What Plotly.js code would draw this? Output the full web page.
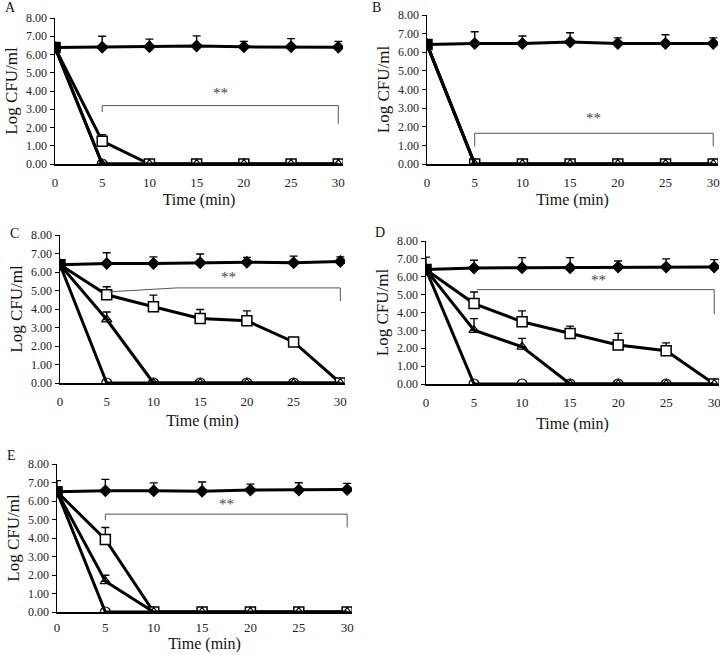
<!DOCTYPE html>
<html>
<head>
<meta charset="utf-8">
<script src="https://cdn.plot.ly/plotly-3.0.1.min.js"></script>
<style>html,body{margin:0;padding:0;background:#fff;}#chart{width:720px;height:655px;}</style>
</head>
<body>
<div id="chart"></div>
<script>
// ---- data ----
const times = [0, 5, 10, 15, 20, 25, 30];
const yTickVals = [0, 1, 2, 3, 4, 5, 6, 7, 8];
const panelLetters = ["A", "B", "C", "D", "E"];

// Panel A
const ctrlA = [6.38, 6.40, 6.42, 6.47, 6.42, 6.43, 6.40];
const ctrlErrA = [0, 0.60, 0.42, 0.55, 0.30, 0.44, 0.32];
const sqA = [6.38, 1.25, 0, 0, 0, 0, 0];
const sqErrA = [0, 0.35, 0, 0, 0, 0, 0];
const triA = [6.38, 0, 0, 0, 0, 0, 0];
const triErrA = [0, 0, 0, 0, 0, 0, 0];
const circA = [6.38, 0, 0, 0, 0, 0, 0];

// Panel B
const ctrlB = [6.42, 6.47, 6.47, 6.55, 6.47, 6.47, 6.47];
const ctrlErrB = [0, 0.63, 0.40, 0.50, 0.30, 0.47, 0.30];
const sqB = [6.42, 0, 0, 0, 0, 0, 0];
const sqErrB = [0, 0, 0, 0, 0, 0, 0];
const triB = [6.42, 0, 0, 0, 0, 0, 0];
const triErrB = [0, 0, 0, 0, 0, 0, 0];
const circB = [6.42, 0, 0, 0, 0, 0, 0];

// Panel C
const ctrlC = [6.39, 6.46, 6.46, 6.50, 6.53, 6.50, 6.57];
const ctrlErrC = [0, 0.58, 0.36, 0.47, 0.26, 0.36, 0.25];
const sqC = [6.39, 4.77, 4.12, 3.49, 3.36, 2.22, 0];
const sqErrC = [0, 0.43, 0.63, 0.48, 0.54, 0.18, 0];
const triC = [6.39, 3.43, 0, 0, 0, 0, 0];
const triErrC = [0, 0.41, 0, 0, 0, 0, 0];
const circC = [6.39, 0, 0, 0, 0, 0, 0];

// Panel D
const ctrlD = [6.40, 6.49, 6.51, 6.51, 6.55, 6.55, 6.55];
const ctrlErrD = [0.70, 0.43, 0.56, 0.56, 0.33, 0.45, 0.41];
const sqD = [6.40, 4.50, 3.48, 2.83, 2.18, 1.86, 0];
const sqErrD = [0, 0.65, 0.61, 0.41, 0.65, 0.44, 0];
const triD = [6.40, 3.01, 2.08, 0, 0, 0, 0];
const triErrD = [0, 0.65, 0.47, 0, 0, 0, 0];
const circD = [6.40, 0, 0, 0, 0, 0, 0];

// Panel E
const ctrlE = [6.50, 6.55, 6.55, 6.53, 6.59, 6.59, 6.62];
const ctrlErrE = [0.60, 0.62, 0.43, 0.50, 0.32, 0.40, 0.33];
const sqE = [6.50, 3.92, 0, 0, 0, 0, 0];
const sqErrE = [0, 0.65, 0, 0, 0, 0, 0];
const triE = [6.50, 1.66, 0, 0, 0, 0, 0];
const triErrE = [0, 0.33, 0, 0, 0, 0, 0];
const circE = [6.50, 0, 0, 0, 0, 0, 0];

// significance brackets: polyline x / y, star label position
const bracketX = [
  [5, 5, 30, 30],
  [5, 5, 30, 30],
  [5.3, 12.5, 30, 30],
  [5.3, 30, 30],
  [5, 5, 30, 30]
];
const bracketY = [
  [2.85, 3.2, 3.2, 2.2],
  [0.95, 1.65, 1.65, 0.95],
  [4.93, 5.14, 5.14, 4.42],
  [5.28, 5.28, 3.9],
  [4.96, 5.29, 5.29, 4.57]
];
const starX = [17.5, 17.5, 18, 18, 17.5];
const starY = [3.9, 2.45, 5.75, 5.8, 5.83];

// ---- layout geometry (pixels) ----
const W = 720, H = 655;
const panels = [
  {ctrl: ctrlA, ce: ctrlErrA, sq: sqA, se: sqErrA, tri: triA, te: triErrA, circ: circA, box: [55, 343, 18, 164]},
  {ctrl: ctrlB, ce: ctrlErrB, sq: sqB, se: sqErrB, tri: triB, te: triErrB, circ: circB, box: [427, 718, 15, 164]},
  {ctrl: ctrlC, ce: ctrlErrC, sq: sqC, se: sqErrC, tri: triC, te: triErrC, circ: circC, box: [60, 345, 235, 383]},
  {ctrl: ctrlD, ce: ctrlErrD, sq: sqD, se: sqErrD, tri: triD, te: triErrD, circ: circD, box: [426, 719, 241, 384]},
  {ctrl: ctrlE, ce: ctrlErrE, sq: sqE, se: sqErrE, tri: triE, te: triErrE, circ: circE, box: [57, 352, 464, 612]}
];
const letterPos = [[3, 8], [370, 7], [8, 233], [373, 232], [5, 455]];
const xTitleStandoff = [4, 4, 6, 8, 0];
const xLabelStandoff = [6, 6, 6, 6, 3];

const FONT = "'Liberation Serif', 'Times New Roman', Times, serif";
const traces = [];
const layout = {
  width: W, height: H,
  margin: {l: 0, r: 0, t: 0, b: 0},
  paper_bgcolor: "#fff", plot_bgcolor: "#fff",
  showlegend: false,
  font: {family: FONT, size: 13, color: "#222"},
  shapes: [], annotations: []
};

function errBar(arr) {
  return {type: "data", symmetric: false, array: arr, arrayminus: arr.map(() => 0),
          color: "#000", thickness: 1.4, width: 4, visible: true};
}

panels.forEach((p, i) => {
  const n = i === 0 ? "" : String(i + 1);
  const xa = "x" + n, ya = "y" + n;
  const line = {color: "#000", width: 3};
  traces.push({x: times, y: p.ctrl, xaxis: xa, yaxis: ya, mode: "lines+markers", line: line,
    marker: {symbol: "diamond", size: 10, color: "#000"}, error_y: errBar(p.ce)});
  traces.push({x: times, y: p.circ, xaxis: xa, yaxis: ya, mode: "lines+markers", line: line,
    marker: {symbol: "circle-open", size: 10, color: "#000", line: {width: 1.2}}});
  traces.push({x: times, y: p.sq, xaxis: xa, yaxis: ya, mode: "lines+markers", line: line,
    marker: {symbol: "square", size: 10, color: times.map((t, k) => k === 0 ? "#000" : "#fff"),
             line: {color: "#000", width: 1.5}}, error_y: errBar(p.se)});
  traces.push({x: times, y: p.tri, xaxis: xa, yaxis: ya, mode: "lines+markers", line: line,
    marker: {symbol: "triangle-up-open", size: 9, color: "#000", line: {width: 1.2}}, error_y: errBar(p.te)});

  const b = p.box;
  const xKey = "xaxis" + n, yKey = "yaxis" + n;
  layout[xKey] = {
    domain: [b[0] / W, b[1] / W], anchor: ya, range: [0, 30.5],
    tickvals: times, ticktext: times.map(String),
    showgrid: false, zeroline: false, showline: true, linecolor: "#000", linewidth: 1.5,
    ticks: "", ticklabelstandoff: xLabelStandoff[i], ticklabeloverflow: "allow",
    tickfont: {family: FONT, size: 13, color: "#222"},
    title: {text: "Time (min)", font: {family: FONT, size: 16, color: "#111"}, standoff: xTitleStandoff[i]}
  };
  layout[yKey] = {
    domain: [1 - b[3] / H, 1 - b[2] / H], anchor: xa, range: [0, 8],
    tickvals: yTickVals, ticktext: yTickVals.map(v => v.toFixed(2)),
    showgrid: false, zeroline: false, showline: true, linecolor: "#000", linewidth: 1.5,
    ticks: "outside", ticklen: 4, tickcolor: "#000", tickwidth: 1,
    tickfont: {family: FONT, size: 12, color: "#222"},
    title: {text: "Log CFU/ml", font: {family: FONT, size: 17, color: "#111"}, standoff: 4}
  };

  // bracket
  const bx = bracketX[i], by = bracketY[i];
  let path = "M " + bx[0] + "," + by[0];
  for (let k = 1; k < bx.length; k++) path += " L " + bx[k] + "," + by[k];
  layout.shapes.push({type: "path", xref: xa, yref: ya, path: path, line: {color: "#555", width: 1}});
  layout.annotations.push({xref: xa, yref: ya, x: starX[i], y: starY[i], text: "**", showarrow: false,
    font: {family: FONT, size: 15, color: "#444"}});
  layout.annotations.push({xref: "paper", yref: "paper", x: letterPos[i][0] / W, y: 1 - letterPos[i][1] / H,
    xanchor: "left", yanchor: "middle", text: panelLetters[i], showarrow: false,
    font: {family: FONT, size: 14, color: "#111"}});
});

Plotly.newPlot("chart", traces, layout, {displayModeBar: false, staticPlot: true});
</script>
</body>
</html>
